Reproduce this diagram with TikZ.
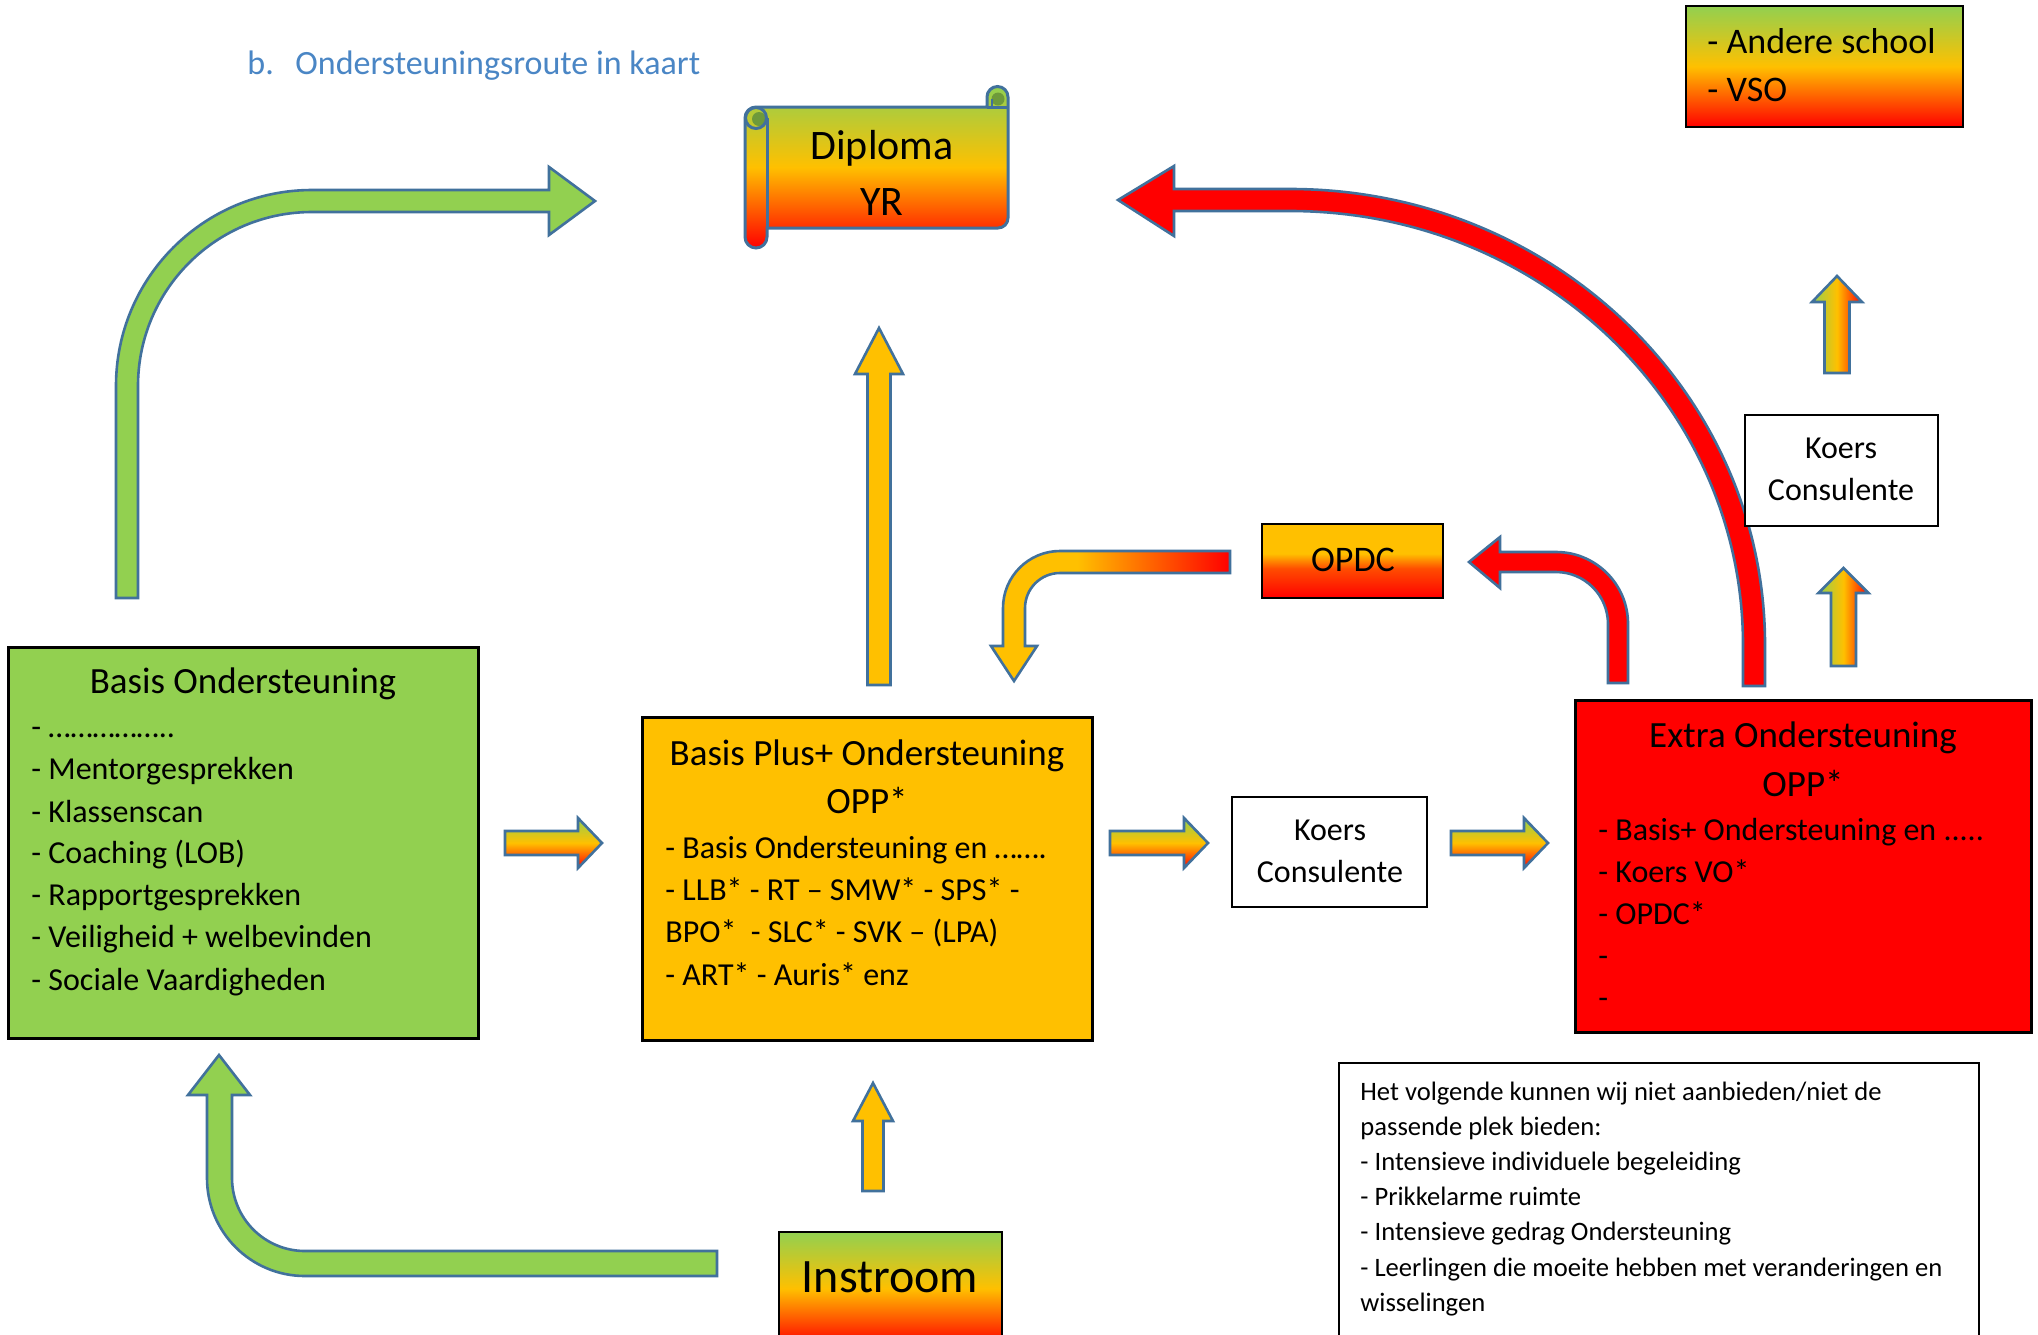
\documentclass[tikz,border=0pt]{standalone}
\usepackage{fontspec}
\setmainfont{Carlito}
\definecolor{cG}{HTML}{92D050}
\definecolor{cY}{HTML}{FFC000}
\definecolor{cR}{HTML}{FF0000}
\definecolor{cB}{HTML}{41719C}
\definecolor{cT}{HTML}{4A86C5}
\definecolor{cDG}{HTML}{6E9A3A}
\pgfdeclareverticalshading{yrV}{100bp}{color(0bp)=(cR); color(25bp)=(cR); color(45bp)=(cR!60!cY); color(55bp)=(cY); color(100bp)=(cY)}
\pgfdeclarehorizontalshading{yrH}{100bp}{color(0bp)=(cY); color(43bp)=(cY); color(75bp)=(cR); color(100bp)=(cR)}
\newcommand\fsz[2]{\fontsize{#1}{#2}\selectfont}
% vertical up arrow: cx, bottom, headbase, tip, half shaft, half head, style
\newcommand\myup[7]{\path[#7] ({#1-#5},#2) -- ({#1-#5},#3) -- ({#1-#6},#3) -- (#1,#4) -- ({#1+#6},#3) -- ({#1+#5},#3) -- ({#1+#5},#2) -- cycle;}
% right arrow: cy, left, headbase, tip, half shaft, half head, style
\newcommand\myright[7]{\path[#7] (#2,{#1-#5}) -- (#3,{#1-#5}) -- (#3,{#1-#6}) -- (#4,#1) -- (#3,{#1+#6}) -- (#3,{#1+#5}) -- (#2,{#1+#5}) -- cycle;}
% box node: name, x1, y1, x2, y2, style
\newcommand\mybox[6]{\node[#6, minimum width={(#4-#2)*0.5pt}, minimum height={(#5-#3)*0.5pt}, inner sep=0pt, outer sep=0pt] (#1) at ({(#2+#4)/2},{(#3+#5)/2}) {};}
\tikzset{
  arrowsty/.style={draw=cB, line width=1.3pt},
  gyrV/.style={top color=cG, bottom color=cR, middle color=cY},
  gyrH/.style={left color=cG, right color=cR, middle color=cY},
  boxsty/.style={draw=black, line width=1.5pt, rectangle},
  thinbox/.style={draw=black, line width=1.1pt, rectangle, fill=white},
  ttl/.style={anchor=base, inner sep=0pt, font=\fsz{18.5}{22}},
  lst/.style={anchor=base west, inner sep=0pt, font=\fsz{16}{19}},
  kstyle/.style={anchor=base, inner sep=0pt, font=\fsz{16}{19}},
  notetxt/.style={anchor=base west, inner sep=0pt, font=\fsz{13.3}{16}},
}
\begin{document}
\begin{tikzpicture}[x=0.5pt,y=-0.5pt]
\useasboundingbox (0,0) rectangle (2038,1334);
\clip (0,0) rectangle (2038,1334);
\fill[white] (0,0) rectangle (2038,1334);

% heading
\node[anchor=base west, inner sep=0pt, font=\fsz{17}{20}, text=cT] (h1) at (247,74) {b.};
\node[anchor=base west, inner sep=0pt, font=\fsz{17}{20}, text=cT] (h2) at (295,74) {Ondersteuningsroute in kaart};

% big red curved arrow (Extra -> Diploma)
\path[arrowsty, fill=cR] (1765,686) -- (1765,645) arc[start angle=0,end angle=-90,x radius=475,y radius=456]
  -- (1174,189) -- (1174,166) -- (1118,200) -- (1174,236) -- (1174,211) -- (1290,211)
  arc[start angle=-90,end angle=0,x radius=453,y radius=434] -- (1743,686) -- cycle;

% green bent arrow top-left (Basis -> Diploma)
\path[arrowsty, fill=cG] (116,598) -- (116,386) arc[start angle=180,end angle=270,radius=196]
  -- (549,190) -- (549,167) -- (595,201) -- (549,235) -- (549,212) -- (312,212)
  arc[start angle=270,end angle=180,radius=174] -- (138,598) -- cycle;

% green bent arrow bottom (Instroom -> Basis)
\path[arrowsty, fill=cG] (717,1276) -- (305,1276) arc[start angle=90,end angle=180,radius=98]
  -- (207,1095) -- (188,1095) -- (219,1055) -- (250,1095) -- (232,1095) -- (232,1178)
  arc[start angle=180,end angle=90,radius=73] -- (717,1251) -- cycle;

% OPDC -> Basis Plus bent arrow
\path[arrowsty, shading=yrH] (1230,551) -- (1060,551) arc[start angle=-90,end angle=-180,radius=57]
  -- (1003,646) -- (991,646) -- (1014,681) -- (1037,646) -- (1025,646) -- (1025,608)
  arc[start angle=180,end angle=270,radius=35] -- (1230,573) -- cycle;

% Extra -> OPDC red bent arrow
\path[arrowsty, fill=cR] (1628,683) -- (1628,624) arc[start angle=0,end angle=-90,radius=72]
  -- (1500,552) -- (1500,537) -- (1469,562) -- (1500,588) -- (1500,572) -- (1556,572)
  arc[start angle=-90,end angle=0,radius=52] -- (1608,683) -- cycle;

% straight up arrows
\myup{879}{685}{374}{328}{11.5}{24}{arrowsty, fill=cY}
\myup{873}{1191}{1121}{1083}{10.5}{20}{arrowsty, fill=cY}
\myup{1843.5}{666}{593}{568}{12.5}{25}{arrowsty, gyrH}
\myup{1837}{373}{302}{276}{12.5}{25}{arrowsty, gyrH}

% right arrows
\myright{843}{505}{578}{602}{12}{25}{arrowsty, gyrV}
\myright{843}{1110}{1184}{1208}{12}{25}{arrowsty, gyrV}
\myright{843}{1451}{1524}{1548}{12}{25}{arrowsty, gyrV}

% Diploma scroll
\path[draw=cB, line width=1.5pt, gyrV] (767,228) -- (998,228) arc[start angle=90,end angle=0,radius=10]
  -- (1008,97) arc[start angle=0,end angle=-180,radius=10.5] -- (987,107) -- (756,107)
  arc[start angle=-90,end angle=-180,radius=11] -- (745,237) arc[start angle=180,end angle=0,radius=11] -- cycle;
\fill[cDG] (759,119) circle[radius=7];
\draw[cB, line width=1.5pt] (756,118) circle[radius=10.5];
\draw[cB, line width=1.5pt] (767,118) -- (767,228);
\fill[cDG] (998,99) circle[radius=6.5];
\draw[cB, line width=1.5pt] (987,107) -- (1008,107);
\draw[cB, line width=1.2pt] (992,99) -- (992,107);
\node[anchor=base, inner sep=0pt, font=\fsz{21}{25}] (d1) at (882,159) {Diploma};
\node[anchor=base, inner sep=0pt, font=\fsz{21}{25}] (d2) at (882,215) {YR};

% Andere school
\mybox{andere}{1686}{6}{1963}{127}{draw=black, line width=1pt, rectangle, gyrV}
\node[anchor=base west, inner sep=0pt, font=\fsz{18}{21}] (a1) at (1707,53) {- Andere school};
\node[anchor=base west, inner sep=0pt, font=\fsz{18}{21}] (a2) at (1707,101) {- VSO};

% Basis Ondersteuning
\mybox{basis}{8}{647}{478}{1038}{boxsty, fill=cG}
\node[ttl] (bt) at (243,693) {Basis Ondersteuning};
\node[lst] (bl1) at (31,737) {- ……………..};
\node[lst] (bl2) at (31,779) {- Mentorgesprekken};
\node[lst] (bl3) at (31,822) {- Klassenscan};
\node[lst] (bl4) at (31,863) {- Coaching (LOB)};
\node[lst] (bl5) at (31,905) {- Rapportgesprekken};
\node[lst] (bl6) at (31,947) {- Veiligheid + welbevinden};
\node[lst] (bl7) at (31,990) {- Sociale Vaardigheden};

% Basis Plus
\mybox{plus}{642}{717}{1092}{1040}{boxsty, fill=cY}
\node[ttl] (pt1) at (867,765) {Basis Plus+ Ondersteuning};
\node[ttl] (pt2) at (867,813) {OPP*};
\node[lst] (pl1) at (665,858) {- Basis Ondersteuning en …….};
\node[lst] (pl2) at (665,900) {- LLB* - RT – SMW* - SPS* -};
\node[lst] (pl3) at (665,942) {BPO*~ - SLC* - SVK – (LPA)};
\node[lst] (pl4) at (665,985) {- ART* - Auris* enz};

% Extra
\mybox{extra}{1575}{700}{2031}{1032}{boxsty, fill=cR}
\node[ttl] (et1) at (1803,747) {Extra Ondersteuning};
\node[ttl] (et2) at (1803,796) {OPP*};
\node[lst] (el1) at (1598,840) {- Basis+ Ondersteuning en .....};
\node[lst] (el2) at (1598,882) {- Koers VO*};
\node[lst] (el3) at (1598,924) {- OPDC*};
\node[lst] (el4) at (1598,966) {-};
\node[lst] (el5) at (1598,1008) {-};

% Koers boxes
\mybox{koersM}{1232}{797}{1427}{907}{thinbox}
\node[kstyle] (km1) at (1330,840) {Koers};
\node[kstyle] (km2) at (1330,882) {Consulente};
\mybox{koersU}{1745}{415}{1938}{526}{thinbox}
\node[kstyle] (ku1) at (1841,458) {Koers};
\node[kstyle] (ku2) at (1841,500) {Consulente};

% OPDC
\mybox{opdc}{1262}{524}{1443}{598}{draw=black, line width=1.3pt, rectangle, shading=yrV}
\node[anchor=base, inner sep=0pt, font=\fsz{18}{21}] (ot) at (1353,571) {OPDC};

% Instroom
\mybox{instroom}{779}{1232}{1002}{1345}{draw=black, line width=1.3pt, rectangle, gyrV}
\node[anchor=base, inner sep=0pt, font=\fsz{24}{28}] (it) at (890,1292) {Instroom};

% Note box
\mybox{note}{1339}{1063}{1979}{1345}{thinbox}
\node[notetxt] (n1) at (1360,1100) {Het volgende kunnen wij niet aanbieden/niet de};
\node[notetxt] (n2) at (1360,1135) {passende plek bieden:};
\node[notetxt] (n3) at (1360,1170) {- Intensieve individuele begeleiding};
\node[notetxt] (n4) at (1360,1205) {- Prikkelarme ruimte};
\node[notetxt] (n5) at (1360,1240) {- Intensieve gedrag Ondersteuning};
\node[notetxt] (n6) at (1360,1276) {- Leerlingen die moeite hebben met veranderingen en};
\node[notetxt] (n7) at (1360,1311) {wisselingen};
\end{tikzpicture}
\end{document}
